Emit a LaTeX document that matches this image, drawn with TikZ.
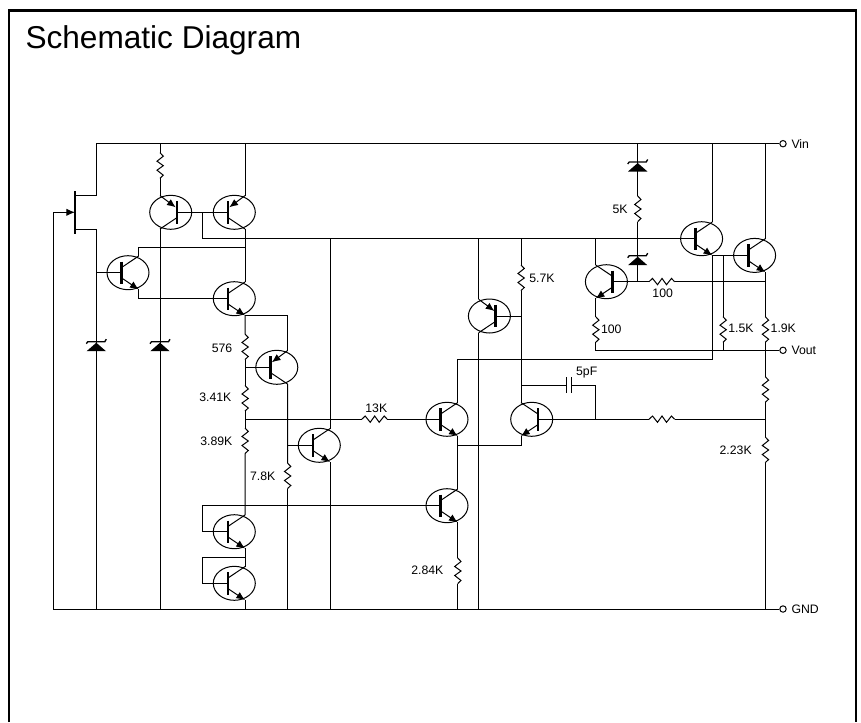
\documentclass[tikz,border=0pt]{standalone}
\usepackage{fontspec}
\setmainfont{Liberation Sans}
\usetikzlibrary{arrows.meta, shapes.geometric}

\tikzset{
  qbody/.style={ellipse, draw, minimum width=31.5pt, minimum height=25.5pt, inner sep=0pt},
  qbar/.style={line width=2.1pt},
  qtip/.style={-{Latex[length=6.5pt, width=5.5pt]}},
  lbl/.style={font=\fontsize{9.2}{10}\selectfont, inner sep=0pt},
  term/.style={circle, draw, fill=white, minimum width=4.8pt, inner sep=0pt},
  pics/npn/.style={code={
    \node (-body)[qbody] at (0, 0) {};
    \draw[qbar] (-6.3, -11.2) -- (-6.3, 11.2);
    \coordinate (-b) at (-6.3, 0);
    \coordinate (-c) at (10.7, -16.7);
    \coordinate (-e) at (10.7, 16.7);
    \draw (-6.3, -5.3) -- (-c);
    \draw[qtip] (-6.3, 5.3) -- (-e);
  }},
  pics/pnp/.style={code={
    \node (-body)[qbody] at (0, 0) {};
    \draw[qbar] (-6.3, -11.2) -- (-6.3, 11.2);
    \coordinate (-b) at (-6.3, 0);
    \coordinate (-e) at (10.7, -16.7);
    \coordinate (-c) at (10.7, 16.7);
    \draw[qtip] (-e) -- (-5, -5);
    \draw (-6.3, 5.3) -- (-c);
  }},
  pics/res/.style={code={
    \coordinate (-a) at (0, 0);
    \coordinate (-z) at (0, 25.6);
    \draw (-a) -- (3.3, 3.5) -- (-3, 8.5) -- (3.3, 13) -- (-3, 17.5) -- (3.3, 22.5) -- (-z);
  }},
  pics/zener/.style={code={
    \fill (0, 0) -- (-9.7, 8.5) -- (9.7, 8.5) -- cycle;
    \draw[line width=1pt] (-10, 1) -- (-8.5, -1) -- (8.5, -1) -- (10, -3.5);
  }}
}

\begin{document}
\begin{tikzpicture}[x=0.75pt, y=-0.75pt, line width=0.75pt]
\useasboundingbox (0, 0) rectangle (861, 722);
\draw[line width=1.9pt] (9, 722) -- (9, 10.5) -- (856, 10.5) -- (856, 722);
\node (title)[anchor=base west, inner sep=0pt, font=\fontsize{23.7}{26}\selectfont] at (25, 48.5) {Schematic Diagram};

\node (Vin)[term] at (783, 143.7) {};
\node (Vout)[term] at (783, 350.3) {};
\node (GND)[term] at (783, 609) {};
\node (tVin)[lbl, anchor=west] at (791, 143.7) {Vin};
\node (tVout)[lbl, anchor=west] at (791, 350.3) {Vout};
\node (tGND)[lbl, anchor=west] at (791, 609) {GND};

\pic (q1) [xscale=-1] at (170.7, 212.3) {pnp};
\pic (q2) at (234.3, 212.3) {pnp};
\pic (q3) at (128, 272.7) {npn};
\pic (q4) at (234.3, 298.7) {npn};
\pic (q5) at (276.8, 367.3) {pnp};
\pic (q6) at (319.3, 445.3) {npn};
\pic (q7) at (234.3, 531.7) {npn};
\pic (q8) at (234.3, 583.3) {npn};
\pic (q9) at (447, 419.3) {npn};
\pic (q10) at (447, 505.7) {npn};
\pic (q11) [xscale=-1] at (489.4, 316) {pnp};
\pic (q12) [xscale=-1] at (531.7, 419.3) {npn};
\pic (q13) [xscale=-1] at (606.4, 281.7) {npn};
\pic (q14) at (701.6, 238.7) {npn};
\pic (q15) at (754.6, 255.4) {npn};

\pic (r1) at (160, 152.7) {res};
\pic (r576) at (245, 334) {res};
\pic (r341) at (245, 385.5) {res};
\pic (r389) at (245, 428) {res};
\pic (r78) at (287.5, 463) {res};
\pic (r13k) [rotate=90] at (361.7, 419.3) {res};
\pic (r284) at (457.7, 558) {res};
\pic (r57) at (521, 265) {res};
\pic (r5k) at (637.7, 196) {res};
\pic (r100a) [rotate=90] at (649, 281.7) {res};
\pic (r100b) at (595.7, 316.7) {res};
\pic (r15) at (723, 316.7) {res};
\pic (r19) at (765.3, 316.7) {res};
\pic (r4) at (765.3, 376.7) {res};
\pic (rfb) [rotate=90] at (649, 419.3) {res};
\pic (r223) at (765.3, 437) {res};

\coordinate (d1) at (96.3, 342.7);
\coordinate (d2) at (160, 342.7);
\coordinate (d3) at (637.7, 163);
\coordinate (d4) at (637.7, 256.7);
\pic at (d1) {zener};
\pic at (d2) {zener};
\pic at (d3) {zener};
\pic at (d4) {zener};

% JFET
\coordinate (jg) at (75, 212.3);
\coordinate (jd) at (75, 195.3);
\coordinate (js) at (75, 229.7);
\coordinate (jdr) at (96.3, 195.3);
\coordinate (jsr) at (96.3, 229.7);
\coordinate (gl) at (53.7, 609);
\draw[line width=1.1pt] (75, 191) -- (75, 234);
\draw (Vin) -- (jdr |- Vin) -- (jdr) -- (jd);
\draw (js) -- (jsr) -- (jsr |- GND);
\draw (GND) -- (gl) -- (gl |- jg);
\draw[qtip] (gl |- jg) -- (jg);

\coordinate (j1) at (202.7, 212.3);
\coordinate (j2) at (245, 247);
\coordinate (j3) at (245, 419.3);
\coordinate (j4) at (712.3, 359.3);
\coordinate (j5) at (457.7, 445.3);
\coordinate (j6) at (595.7, 419.3);
\coordinate (j7) at (765.3, 419.3);
\coordinate (j8) at (637.7, 281.7);
\coordinate (k1) at (202.7, 505.7);
\coordinate (k2) at (202.7, 557.3);
\coordinate (c1) at (566.7, 385);
\coordinate (c2) at (571, 385);

\draw (q3-b) -- (q3-b -| jsr);
\draw (r1-a |- Vin) -- (r1-a);
\draw (r1-z) -- (q1-e);
\draw (q1-c) -- (q1-c |- GND);
\draw (q2-e |- Vin) -- (q2-e);
\draw (q1-b) -- (q2-b);
\draw (j1) -- (j1 |- q14-b) -- (q14-b);
\draw (q2-c) -- (q4-c);
\draw (q3-c) |- (j2);
\draw (q3-e) |- (q4-b);
\draw (q4-e) -- (r576-a);
\draw (q4-e) -| (q5-e);
\draw (r576-z) -- (r341-a);
\draw (q5-b) -- (q5-b -| r576-z);
\draw (r341-z) -- (r389-a);
\draw (j3) -- (r13k-a);
\draw (r13k-z) -- (q9-b);
\draw (r389-z) -- (q7-c);
\draw (q7-e) -- (q8-c);
\draw (q8-e) -- (q8-e |- GND);
\draw (q5-c) -- (r78-a);
\draw (q6-b) -- (q6-b -| q5-c);
\draw (r78-z) -- (r78-z |- GND);
\draw (q6-c) -- (q6-c |- q14-b);
\draw (q6-e) -- (q6-e |- GND);
\draw (q7-b) -| (k1) -- (q10-b);
\draw (q8-b) -| (k2) -- (k2 -| q8-c);
\draw (q9-c) |- (j4) -- (q14-e);
\draw (q9-e) -- (q10-c);
\draw (j5) -| (q12-e);
\draw (q10-e) -- (r284-a);
\draw (r284-z) -- (r284-z |- GND);
\draw (q11-e |- q14-b) -- (q11-e);
\draw (q11-c) -- (q11-c |- GND);
\draw (r57-a |- q14-b) -- (r57-a);
\draw (r57-z) -- (q12-c);
\draw (q11-b) -- (q11-b -| r57-z);

\draw (c1 -| r57-z) -- (c1);
\draw (c2) -| (j6);
\draw (566.7, 377) -- (566.7, 392.7);
\draw (571, 377) -- (571, 392.7);
\draw (q12-b) -- (rfb-a);
\draw (rfb-z) -- (j7);

\draw (q13-c |- q14-b) -- (q13-c);
\draw (q13-e) -- (r100b-a);
\draw (r100b-z) |- (Vout);
\draw (q13-b) -- (r100a-a);
\draw (r100a-z) -- (r100a-z -| q15-e);
\draw (d3 |- Vin) -- (r5k-a);
\draw (r5k-z) -- (j8);
\draw (q14-c) -- (q14-c |- Vin);
\draw (q14-e) -- (q15-b);
\draw (q15-b -| r15-a) -- (r15-a);
\draw (r15-z) -- (r15-z |- Vout);
\draw (q15-c) -- (q15-c |- Vin);
\draw (q15-e) -- (r19-a);
\draw (r19-z) -- (r4-a);
\draw (r4-z) -- (r223-a);
\draw (r223-z) -- (r223-z |- GND);

\node (t576)[lbl] at (222, 348) {576};
\node (t341)[lbl] at (215.3, 397.3) {3.41K};
\node (t389)[lbl] at (216.3, 441.7) {3.89K};
\node (t78)[lbl] at (262.7, 476.7) {7.8K};
\node (t13k)[lbl] at (376.3, 408.7) {13K};
\node (t284)[lbl] at (427.3, 570.3) {2.84K};
\node (t5k)[lbl] at (620, 209.3) {5K};
\node (t57)[lbl] at (542, 278.3) {5.7K};
\node (t100a)[lbl] at (662.7, 293.3) {100};
\node (t100b)[lbl] at (611.3, 329.3) {100};
\node (t15)[lbl] at (741, 328.7) {1.5K};
\node (t19)[lbl] at (783.3, 328.7) {1.9K};
\node (t223)[lbl] at (735.7, 450.7) {2.23K};
\node (t5pf)[lbl] at (586.7, 372.7) {5pF};
\end{tikzpicture}
\end{document}
